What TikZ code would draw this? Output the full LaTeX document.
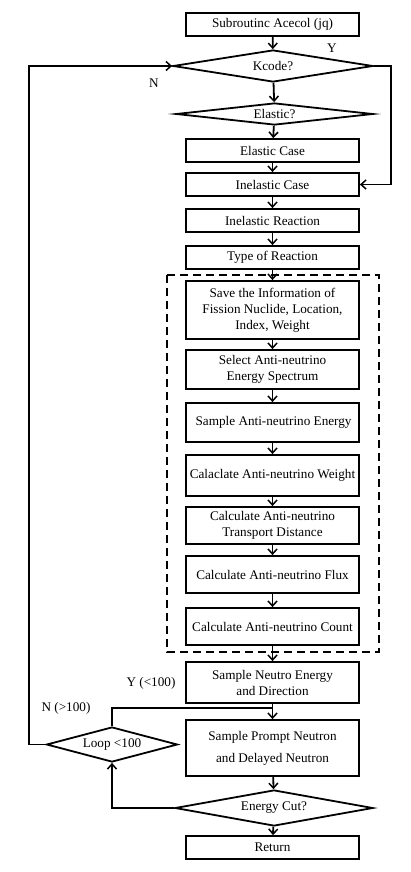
\documentclass[tikz,border=0pt]{standalone}
\usepackage{fontspec}
\setmainfont{Liberation Serif}
\usetikzlibrary{shapes.geometric,arrows.meta}
\begin{document}
\begin{tikzpicture}[x=1pt,y=-1pt,
  every node/.style={font=\fontsize{13.2}{16}\selectfont},
  box/.style={draw,line width=1.8pt,minimum width=173pt,inner sep=0pt,align=center},
  dia/.style={draw,diamond,aspect=6,inner sep=0pt,line width=1.8pt},
  arr/.style={line width=1.8pt,-{Straight Barb[length=5pt,width=9pt,line width=1.5pt]}},
  ln/.style={line width=1.8pt},
  lbl/.style={inner sep=0pt}]
\useasboundingbox (0,0) rectangle (410,872);
\fill[white] (0,0) rectangle (410,872);
% main column
\node[box,minimum height=23pt] (sub) at (272.5,24.5) {Subroutinc Acecol (jq)};
\node[dia,minimum width=200pt,minimum height=32pt] (kcode) at (273,66) {Kcode?};
\node[dia,minimum width=197pt,minimum height=22pt] (elastic) at (274.5,114) {Elastic?};
\node[box,minimum height=23pt] (elcase) at (272.5,150.5) {Elastic Case};
\node[box,minimum height=23pt] (inelcase) at (272.5,184.5) {Inelastic Case};
\node[box,minimum height=23pt] (inelreact) at (272.5,220.5) {Inelastic Reaction};
\node[box,minimum height=23pt] (type) at (272.5,257.5) {Type of Reaction};
\draw[line width=2.3pt,dash pattern=on 8pt off 5pt] (167,275) rectangle (379,652);
\node[box,minimum height=58pt] (save) at (272.5,310) {Save the Information of\\Fission Nuclide, Location,\\Index, Weight};
\node[box,minimum height=39pt] (select) at (272.5,369.5) {Select Anti-neutrino\\Energy Spectrum};
\node[box,minimum height=39pt] (sampleAN) at (272.5,422.5) {\,Sample Anti-neutrino Energy};
\node[box,minimum height=41pt] (weight) at (272.5,475.5) {Calaclate Anti-neutrino Weight};
\node[box,minimum height=37pt] (transport) at (272.5,525.5) {Calculate Anti-neutrino\\Transport Distance};
\node[box,minimum height=37pt] (flux) at (272.5,574.5) {Calculate Anti-neutrino Flux};
\node[box,minimum height=37pt] (count) at (272.5,626.5) {Calculate Anti-neutrino Count};
\node[box,minimum height=41pt] (neutro) at (272.5,682.5) {Sample Neutro Energy\\and Direction};
\node[box,minimum height=56pt,font=\fontsize{13.2}{22}\selectfont] (prompt) at (272.5,748) {Sample Prompt Neutron\\and Delayed Neutron};
\node[dia,minimum width=131pt,minimum height=35pt] (loop) at (112,744.5) {Loop <100};
\node[dia,minimum width=198pt,minimum height=36pt] (ecut) at (274,808) {Energy Cut?};
\node[box,minimum height=23pt] (ret) at (272.5,847.5) {Return};
% labels
\node[lbl] (ly) at (332,48) {Y};
\node[lbl] (ln) at (154,83) {N};
\node[lbl] (ly100) at (151,683) {Y (<100)};
\node[lbl] (ln100) at (66,708) {N (>100)};
% helper coordinates
\coordinate (R) at (391,66);
\coordinate (L) at (29,744.5);
\coordinate (J) at (272.5,708);
% connectors
\draw[arr] (sub) -- (kcode);
\draw[arr] (kcode) -- (elastic);
\draw[arr] (elastic) -- (elcase);
\draw[arr] (elcase) -- (inelcase);
\draw[arr] (kcode.east) -- (R) |- (inelcase.east);
\draw[arr] (inelcase) -- (inelreact);
\draw[arr] (inelreact) -- (type);
\draw[arr] (type) -- (save);
\draw[arr] (save) -- (select);
\draw[arr] (select) -- (sampleAN);
\draw[arr] (sampleAN) -- (weight);
\draw[arr] (weight) -- (transport);
\draw[arr] (transport) -- (flux);
\draw[arr] (flux) -- (count);
\draw[arr] (count) -- (neutro);
\draw[ln] (neutro) -- (J);
\draw[arr] (loop.north) |- (J) -- (prompt.north);
\draw[arr] (prompt) -- (ecut);
\draw[arr] (ecut) -- (ret);
\draw[arr] (ecut.west) -| (loop.south);
\draw[arr] (loop.west) -- (L) |- (kcode.west);
\end{tikzpicture}
\end{document}
